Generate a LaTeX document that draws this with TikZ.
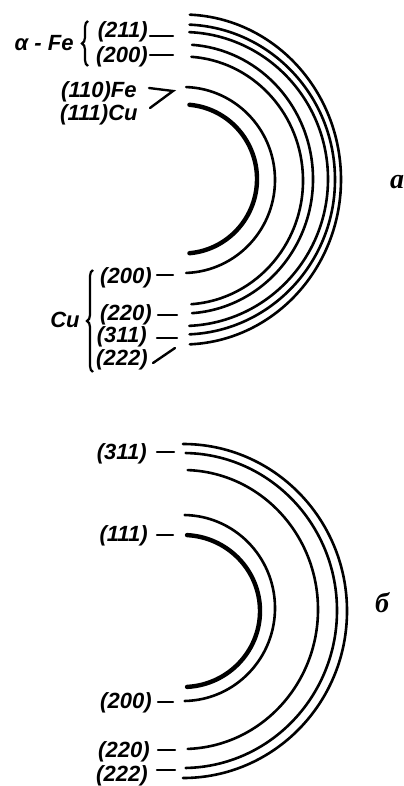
\documentclass[tikz,border=0pt]{standalone}
\usepackage{fontspec}
\setmainfont{Liberation Sans}
\newfontfamily\capfont{Liberation Serif}
\usetikzlibrary{decorations.pathreplacing}

\tikzset{
  ring/.style={line width=1.3pt, line cap=round},
  thickring/.style={line width=2.2pt, line cap=round},
  hkl/.style={font=\fontsize{11}{13}\selectfont\bfseries\itshape, inner sep=0pt, anchor=east},
  tick/.style={line width=1.2pt, line cap=round},
  curly/.style={decorate, decoration={brace, amplitude=#1}, line width=1.1pt},
  curly/.default=3pt,
  caption/.style={font=\fontsize{14}{16}\selectfont\capfont\bfseries\itshape, inner sep=0pt},
}

\begin{document}
\begin{tikzpicture}[x=0.5pt, y=-0.5pt]
  \useasboundingbox (0,0) rectangle (403,786);

  % Pattern a: alpha-Fe + Cu
  \draw[thickring] (183,179) ++(85:74 and 74.5) arc[start angle=85, end angle=-85, x radius=74, y radius=74.5];
  \draw[ring] (183,180) ++(88:92 and 93) arc[start angle=88, end angle=-88, x radius=92, y radius=93];
  \draw[ring] (183,180.5) ++(86:120 and 124) arc[start angle=86, end angle=-86, x radius=120, y radius=124];
  \draw[ring] (183,179) ++(86:130 and 134.5) arc[start angle=86, end angle=-86, x radius=130, y radius=134.5];
  \draw[ring] (183,179) ++(87.5:145 and 147) arc[start angle=87.5, end angle=-87.5, x radius=145, y radius=147];
  \draw[ring] (183,179.5) ++(87.5:152 and 155) arc[start angle=87.5, end angle=-87.5, x radius=152, y radius=155];
  \draw[ring] (183,179.5) ++(87.5:158 and 165) arc[start angle=87.5, end angle=-87.5, x radius=158, y radius=165];

  \node[hkl] (alphaFe) at (74,43) {α - Fe};
  \draw[curly] (88,66) -- (88,21);
  \node[hkl] (a211) at (148,32) {(211)};
  \node[hkl] (a200) at (148,57) {(200)};
  \draw[tick] ([shift={(2,4)}]a211.east) -- +(23,0);
  \draw[tick] ([shift={(2,-2)}]a200.east) -- +(23,0);

  \node[hkl] (aFe110) at (137,92) {(110)Fe};
  \node[hkl] (aCu111) at (138,115) {(111)Cu};
  \draw[tick] ([shift={(12,-4)}]aFe110.east) -- ++(24,3) -- ++(-23,17);

  \node[hkl] (cuLabel) at (80,320) {Cu};
  \draw[curly] (93,372) -- (93,270);
  \node[hkl] (aCu200) at (152,278) {(200)};
  \node[hkl] (aCu220) at (152,315) {(220)};
  \node[hkl] (aCu311) at (147,337) {(311)};
  \node[hkl] (aCu222) at (148,360) {(222)};
  \draw[tick] ([shift={(5,-3)}]aCu200.east) -- +(16,0);
  \draw[tick] ([shift={(6,0)}]aCu220.east) -- +(19,0);
  \draw[tick] ([shift={(10,1)}]aCu311.east) -- +(20,0);
  \draw[tick] ([shift={(5,3)}]aCu222.east) -- +(22,-15);

  \node[caption] (capA) at (397,182) {a};

  % Pattern b: Cu
  \draw[thickring] (183,611) ++(87:77 and 76) arc[start angle=87, end angle=-87, x radius=77, y radius=76];
  \draw[ring] (183,608) ++(89:92 and 93) arc[start angle=89, end angle=-89, x radius=92, y radius=93];
  \draw[ring] (183,609.5) ++(88:135 and 139.5) arc[start angle=88, end angle=-88, x radius=135, y radius=139.5];
  \draw[ring] (183,610.5) ++(89:154 and 157.5) arc[start angle=89, end angle=-89, x radius=154, y radius=157.5];
  \draw[ring] (183,611) ++(90:164 and 167) arc[start angle=90, end angle=-90, x radius=164, y radius=167];

  \node[hkl] (b311) at (147,454) {(311)};
  \node[hkl] (b111) at (148,536) {(111)};
  \node[hkl] (b200) at (152,703) {(200)};
  \node[hkl] (b220) at (150,752) {(220)};
  \node[hkl] (b222) at (148,776) {(222)};
  \draw[tick] ([shift={(10,-2)}]b311.east) -- +(17,0);
  \draw[tick] ([shift={(9,-1)}]b111.east) -- +(16,0);
  \draw[tick] ([shift={(6,-1)}]b200.east) -- +(15,0);
  \draw[tick] ([shift={(8,-2)}]b220.east) -- +(17,0);
  \draw[tick] ([shift={(9,-6)}]b222.east) -- +(18,0);

  \node[caption] (capB) at (382,603) {б};
\end{tikzpicture}
\end{document}
